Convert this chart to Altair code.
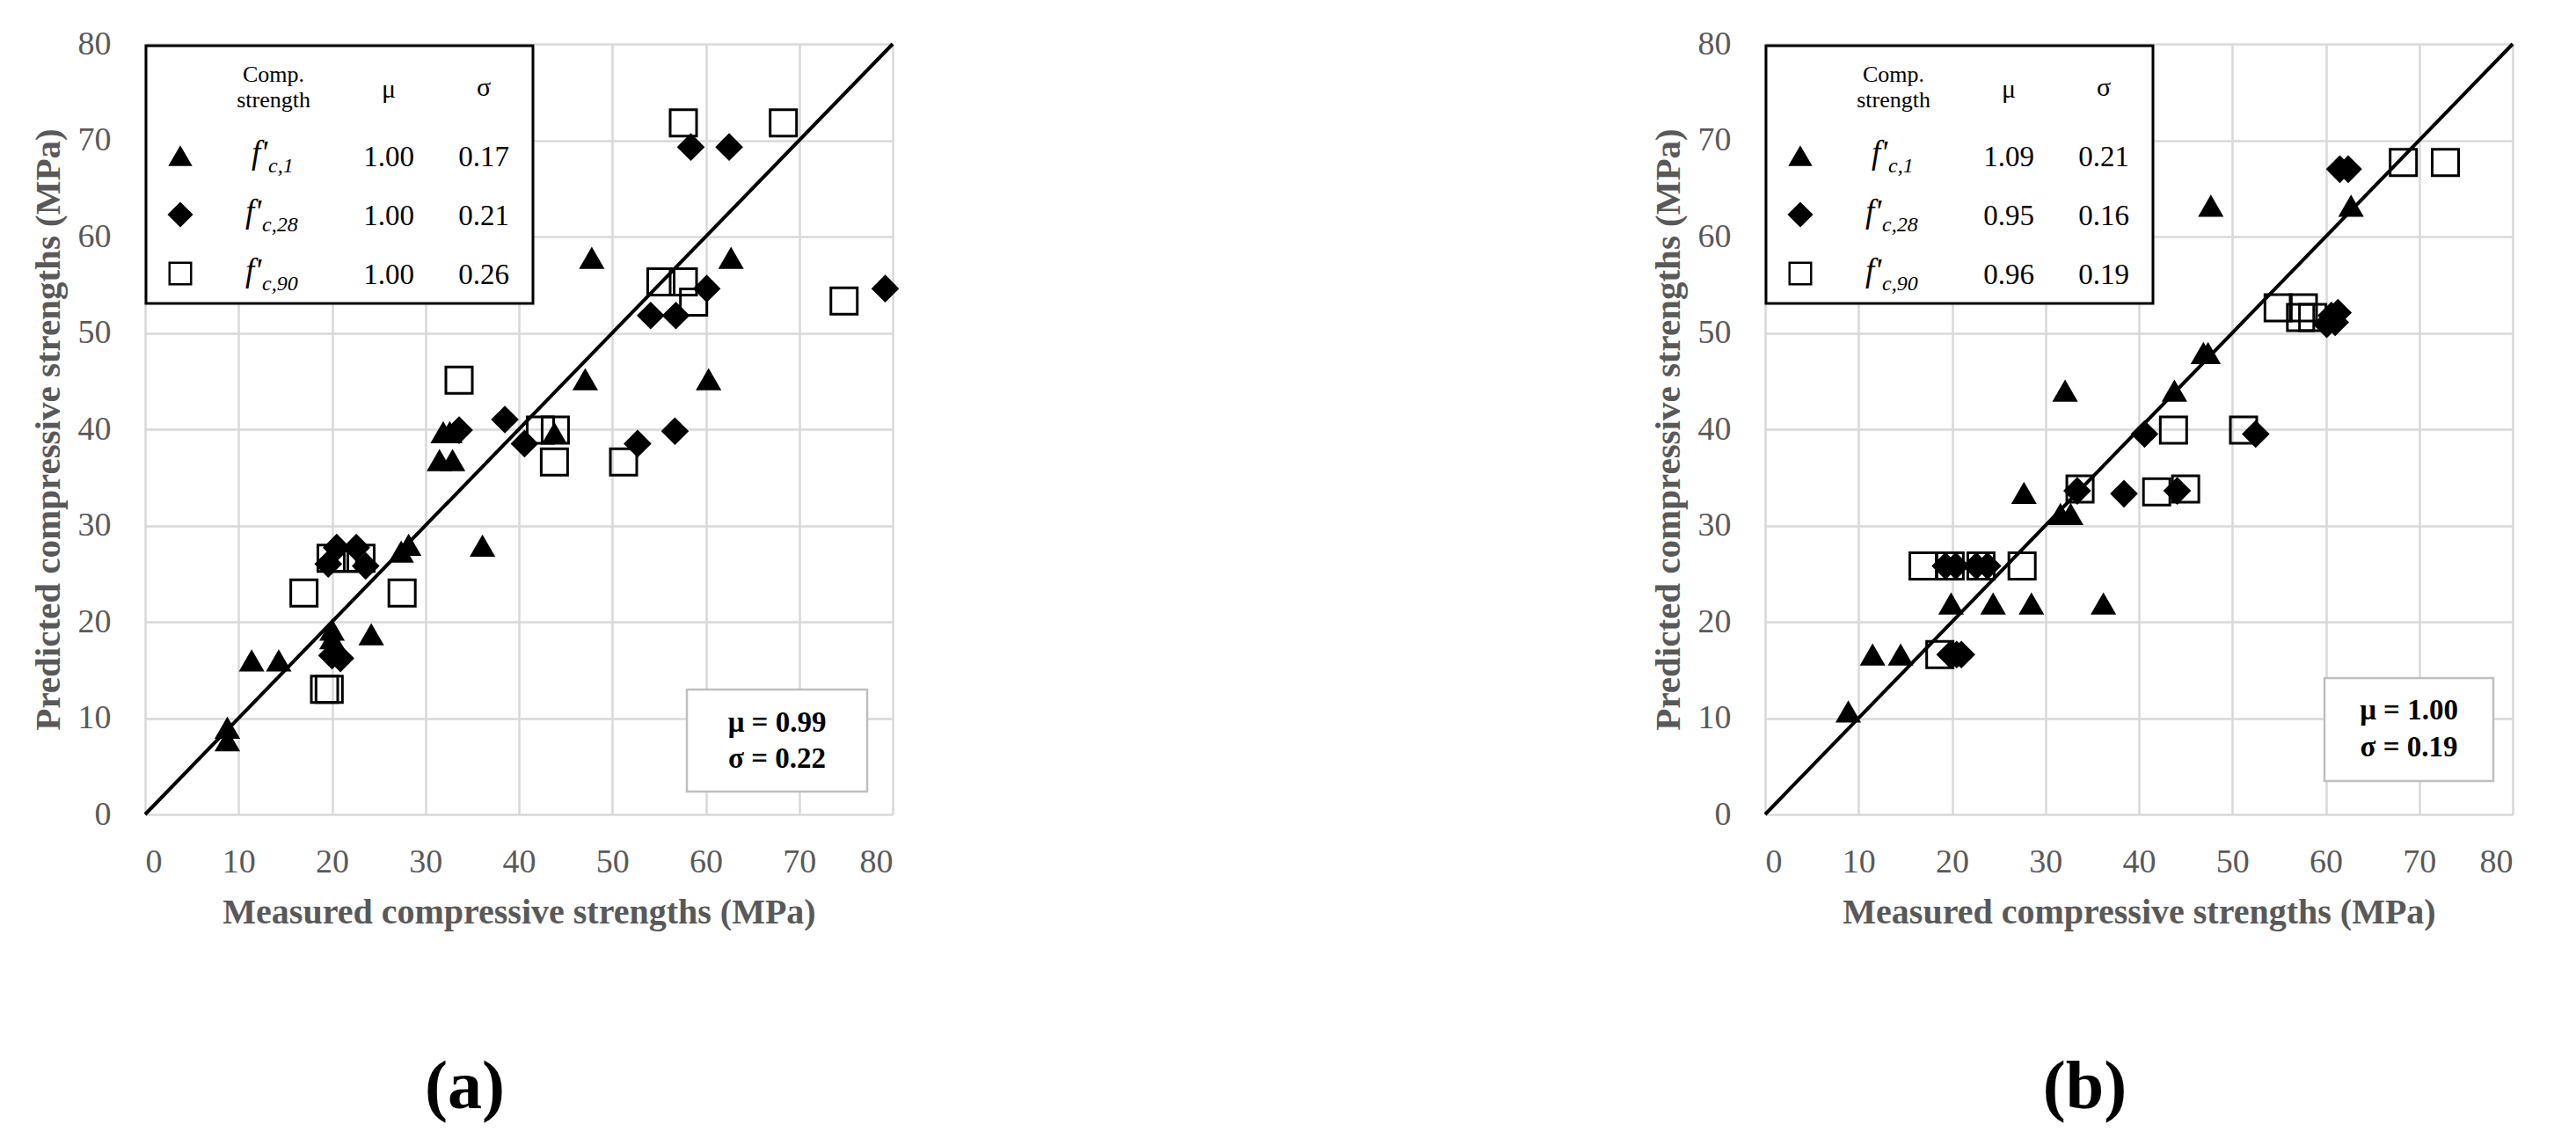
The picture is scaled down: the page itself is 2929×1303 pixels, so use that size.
import altair as alt
import pandas as pd

# ---------------- values ----------------
ticks = [0, 10, 20, 30, 40, 50, 60, 70, 80]
ref_line = [0, 80]

# Panel (a)
a_tri_x = [8.8, 8.8, 11.4, 14.3, 20.0, 20.0, 24.2, 27.4, 28.2, 36.1, 31.5, 32.9, 31.9, 32.6, 43.8, 47.1, 60.3, 47.8, 62.7]
a_tri_y = [9.0, 7.7, 16.0, 16.0, 19.2, 18.3, 18.7, 27.3, 28.0, 27.9, 36.8, 36.8, 39.7, 39.7, 39.6, 45.2, 45.2, 57.8, 57.8]
a_dia_x = [19.6, 20.5, 22.6, 23.6, 20.0, 20.9, 33.6, 38.5, 40.6, 52.7, 56.7, 54.1, 56.8, 60.1, 58.4, 62.5, 79.2]
a_dia_y = [26.0, 27.7, 27.7, 25.8, 16.5, 16.2, 39.9, 41.0, 38.5, 38.5, 39.8, 51.8, 51.8, 54.6, 69.3, 69.3, 54.6]
a_sq_x = [17.0, 27.5, 19.2, 19.7, 19.9, 21.2, 23.1, 33.6, 42.3, 43.9, 43.8, 51.2, 57.6, 68.3, 55.2, 57.6, 58.7, 74.8]
a_sq_y = [23.0, 23.0, 13.0, 13.0, 26.6, 26.6, 26.6, 45.1, 39.9, 39.9, 36.6, 36.6, 71.8, 71.8, 55.3, 55.3, 53.2, 53.3]

# Panel (b)
b_tri_x = [8.9, 11.5, 14.5, 19.9, 24.4, 28.5, 36.2, 27.7, 31.6, 32.7, 32.1, 43.8, 46.9, 47.4, 47.7, 62.7]
b_tri_y = [10.7, 16.6, 16.6, 21.9, 21.9, 21.9, 21.9, 33.4, 31.2, 31.2, 44.0, 44.0, 47.9, 47.9, 63.2, 63.2]
b_dia_x = [19.8, 20.5, 21.0, 19.3, 20.4, 22.6, 23.8, 33.4, 38.4, 44.1, 40.6, 52.5, 60.1, 60.6, 61.0, 61.3, 61.5, 62.4]
b_dia_y = [16.6, 16.6, 16.6, 25.8, 25.8, 25.8, 25.8, 33.6, 33.3, 33.6, 39.5, 39.5, 50.9, 51.8, 51.1, 52.1, 67.0, 67.0]
b_sq_x = [18.7, 16.9, 19.8, 23.1, 27.5, 33.7, 41.9, 45.0, 43.7, 51.2, 54.9, 57.6, 57.3, 58.6, 68.3, 72.8]
b_sq_y = [16.6, 25.8, 25.8, 25.8, 25.8, 33.8, 33.5, 33.8, 39.9, 39.9, 52.6, 52.6, 51.6, 51.6, 67.7, 67.7]

# Legend table texts
legend_header = ["Comp.", "strength", "μ", "σ"]
legend_main = "f'"
legend_subs = ["c,1", "c,28", "c,90"]
a_mu = ["1.00", "1.00", "1.00"]
a_sigma = ["0.17", "0.21", "0.26"]
b_mu = ["1.09", "0.95", "0.96"]
b_sigma = ["0.21", "0.16", "0.19"]
a_overall = ["μ = 0.99", "σ = 0.22"]
b_overall = ["μ = 1.00", "σ = 0.19"]
panel_labels = ["(a)", "(b)"]

x_title = "Measured compressive strengths (MPa)"
y_title = "Predicted compressive strengths  (MPa)"

# ---------------- layout / style ----------------
W, H = 850, 876
SERIF = "Liberation Serif"
shapes = ["triangle-up", "diamond", "square"]


def one(text=""):
    return pd.DataFrame({"t": [text]})


def txt(text, x, y, size, align="center", baseline="middle", weight="normal", style="normal", color="black"):
    return alt.Chart(one(text)).mark_text(
        font=SERIF, fontSize=size, align=align, baseline=baseline,
        fontWeight=weight, fontStyle=style, color=color
    ).encode(x=alt.value(x), y=alt.value(y), text="t:N")


def panel(tri, dia, sq, mus, sigmas, overall, box, label):
    X = alt.X("x:Q", scale=alt.Scale(domain=[0, 80], nice=False, zero=False),
              axis=alt.Axis(values=ticks, title=x_title, grid=True))
    Y = alt.Y("y:Q", scale=alt.Scale(domain=[0, 80], nice=False, zero=False),
              axis=alt.Axis(values=ticks, title=y_title, grid=True))

    sq_l = alt.Chart(pd.DataFrame({"x": sq[0], "y": sq[1]})).mark_point(
        shape="square", filled=False, stroke="black", strokeWidth=3, size=900, opacity=1
    ).encode(x=X, y=Y)
    dia_l = alt.Chart(pd.DataFrame({"x": dia[0], "y": dia[1]})).mark_point(
        shape="diamond", filled=True, color="black", size=1000, opacity=1
    ).encode(x="x:Q", y="y:Q")
    tri_l = alt.Chart(pd.DataFrame({"x": tri[0], "y": tri[1]})).mark_point(
        shape="triangle-up", filled=True, color="black", size=850, opacity=1
    ).encode(x="x:Q", y="y:Q")
    line_l = alt.Chart(pd.DataFrame({"x": ref_line, "y": ref_line})).mark_line(
        color="black", strokeWidth=4
    ).encode(x="x:Q", y="y:Q")

    layers = [sq_l, dia_l, tri_l, line_l]

    # legend table box
    layers.append(alt.Chart(one()).mark_rect(fill="white", stroke="black", strokeWidth=3).encode(
        x=alt.value(1), x2=alt.value(441), y=alt.value(2), y2=alt.value(295)))
    cx_sym, cx_f, cx_mu, cx_sig = 40, 146, 277, 385
    layers.append(txt(legend_header[0], cx_f, 35, 26))
    layers.append(txt(legend_header[1], cx_f, 64, 26))
    layers.append(txt(legend_header[2], cx_mu, 52, 30))
    layers.append(txt(legend_header[3], cx_sig, 50, 30))
    for i in range(3):
        ry = 127 + 67 * i
        if shapes[i] == "square":
            sym = alt.Chart(one()).mark_point(shape="square", filled=False, stroke="black",
                                              strokeWidth=2.5, size=600, opacity=1)
        else:
            sym = alt.Chart(one()).mark_point(shape=shapes[i], filled=True, color="black",
                                              size=750 if i == 0 else 850, opacity=1)
        layers.append(sym.encode(x=alt.value(cx_sym), y=alt.value(ry)))
        fl = 121 if i == 0 else 114
        layers.append(txt(legend_main, fl, ry + 9, 37, align="left", baseline="alphabetic", style="italic"))
        layers.append(txt(legend_subs[i], fl + 19, ry + 19, 24, align="left", baseline="alphabetic", style="italic"))
        layers.append(txt(mus[i], cx_mu, ry + 12, 33, baseline="alphabetic"))
        layers.append(txt(sigmas[i], cx_sig, ry + 12, 33, baseline="alphabetic"))

    # overall statistics box
    bx0, bx1, by0, by1, r1, r2 = box
    layers.append(alt.Chart(one()).mark_rect(fill="white", stroke="#bfbfbf", strokeWidth=2.5).encode(
        x=alt.value(bx0), x2=alt.value(bx1), y=alt.value(by0), y2=alt.value(by1)))
    cx = (bx0 + bx1) / 2
    layers.append(txt(overall[0], cx, r1, 33, weight="bold"))
    layers.append(txt(overall[1], cx, r2, 33, weight="bold"))

    return alt.layer(*layers).properties(
        width=W, height=H,
        title=alt.TitleParams(label, orient="bottom", anchor="middle", frame="bounds", font=SERIF,
                              fontSize=78, fontWeight="bold", color="black", offset=141)
    )


pa = panel((a_tri_x, a_tri_y), (a_dia_x, a_dia_y), (a_sq_x, a_sq_y), a_mu, a_sigma, a_overall,
           (616, 821, 734, 850, 772, 813), panel_labels[0])
pb = panel((b_tri_x, b_tri_y), (b_dia_x, b_dia_y), (b_sq_x, b_sq_y), b_mu, b_sigma, b_overall,
           (636, 828, 721, 838, 758, 800), panel_labels[1])

chart = alt.hconcat(pa, pb, spacing=992, bounds="flush").properties(
    padding={"left": 26, "top": 23, "right": 10, "bottom": 10},
    background="white"
).configure_axis(
    labelFont=SERIF, labelFontSize=38, labelColor="#595959",
    titleFont=SERIF, titleFontSize=40, titleFontWeight="bold", titleColor="#595959",
    gridColor="#d9d9d9", gridWidth=2.5, domain=False, ticks=False, tickSize=0
).configure_axisX(
    labelPadding=35, titlePadding=18
).configure_axisY(
    labelPadding=39, titlePadding=12, titleFontSize=41
).configure_view(strokeWidth=0)

chart.save("out.html", embed_options={"renderer": "svg", "actions": False})
